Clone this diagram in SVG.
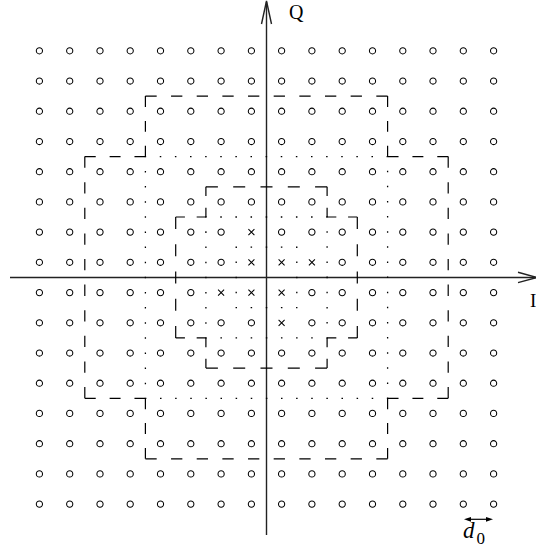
<svg xmlns="http://www.w3.org/2000/svg" xmlns:xlink="http://www.w3.org/1999/xlink" width="536" height="553" viewBox="0 0 536 553">
<style>
.pt{fill:none;stroke:#000;stroke-width:1.05}
.axis{fill:none;stroke:#222;stroke-width:1.4}
.dash{fill:none;stroke:#000;stroke-width:1.2;stroke-dasharray:11 14}
.dot{fill:none;stroke:#000;stroke-width:1.3;stroke-dasharray:0.1 0.9;stroke-dashoffset:0.05}
.lbl{font-family:"Liberation Serif","Times New Roman",serif;fill:#000}
</style>
<defs>
<circle id="o" class="pt" r="3.1"/>
<path id="x" class="pt" d="M-3,-3L3,3M-3,3L3,-3"/>
<g id="row">
<use href="#o" x="39.4"/><use href="#o" x="69.7"/><use href="#o" x="100"/><use href="#o" x="130.2"/><use href="#o" x="160.5"/><use href="#o" x="190.8"/><use href="#o" x="221.1"/><use href="#o" x="251.4"/><use href="#o" x="281.6"/><use href="#o" x="311.9"/><use href="#o" x="342.2"/><use href="#o" x="372.5"/><use href="#o" x="402.8"/><use href="#o" x="433"/><use href="#o" x="463.3"/><use href="#o" x="493.6"/>
</g>
</defs>
<rect width="536" height="553" fill="#fff"/>

<g id="axes">
<path class="axis" d="M266.5,2V535"/>
<path class="axis" d="M261.5,24L266.5,1L271.5,24"/>
<path class="axis" d="M10,277.45H536"/>
<path class="axis" d="M518,272.3L537,277.45L518,282.6"/>
</g>

<g id="points">
<use href="#row" y="50.8"/>
<use href="#row" y="81"/>
<use href="#row" y="111.2"/>
<use href="#row" y="141.5"/>
<use href="#row" y="171.7"/>
<use href="#row" y="201.9"/>
<g transform="translate(0,232.1)">
<use href="#o" x="39.4"/><use href="#o" x="69.7"/><use href="#o" x="100"/><use href="#o" x="130.2"/><use href="#o" x="160.5"/><use href="#o" x="190.8"/><use href="#o" x="221.1"/><use href="#x" x="251.4"/><use href="#o" x="281.6"/><use href="#o" x="311.9"/><use href="#o" x="342.2"/><use href="#o" x="372.5"/><use href="#o" x="402.8"/><use href="#o" x="433"/><use href="#o" x="463.3"/><use href="#o" x="493.6"/>
</g>
<g transform="translate(0,262.3)">
<use href="#o" x="39.4"/><use href="#o" x="69.7"/><use href="#o" x="100"/><use href="#o" x="130.2"/><use href="#o" x="160.5"/><use href="#o" x="190.8"/><use href="#o" x="221.1"/><use href="#x" x="251.4"/><use href="#x" x="281.6"/><use href="#x" x="311.9"/><use href="#o" x="342.2"/><use href="#o" x="372.5"/><use href="#o" x="402.8"/><use href="#o" x="433"/><use href="#o" x="463.3"/><use href="#o" x="493.6"/>
</g>
<g transform="translate(0,292.6)">
<use href="#o" x="39.4"/><use href="#o" x="69.7"/><use href="#o" x="100"/><use href="#o" x="130.2"/><use href="#o" x="160.5"/><use href="#o" x="190.8"/><use href="#x" x="221.1"/><use href="#x" x="251.4"/><use href="#x" x="281.6"/><use href="#o" x="311.9"/><use href="#o" x="342.2"/><use href="#o" x="372.5"/><use href="#o" x="402.8"/><use href="#o" x="433"/><use href="#o" x="463.3"/><use href="#o" x="493.6"/>
</g>
<g transform="translate(0,322.8)">
<use href="#o" x="39.4"/><use href="#o" x="69.7"/><use href="#o" x="100"/><use href="#o" x="130.2"/><use href="#o" x="160.5"/><use href="#o" x="190.8"/><use href="#o" x="221.1"/><use href="#o" x="251.4"/><use href="#x" x="281.6"/><use href="#o" x="311.9"/><use href="#o" x="342.2"/><use href="#o" x="372.5"/><use href="#o" x="402.8"/><use href="#o" x="433"/><use href="#o" x="463.3"/><use href="#o" x="493.6"/>
</g>
<use href="#row" y="353"/>
<use href="#row" y="383.2"/>
<use href="#row" y="413.4"/>
<use href="#row" y="443.7"/>
<use href="#row" y="473.9"/>
<use href="#row" y="504.1"/>
</g>

<g id="region-outer-dashed">
<path class="dash" pathLength="236" d="M145.4,96.1H387.6"/>
<path class="dash" pathLength="61" d="M387.6,96.1V156.6"/>
<path class="dash" pathLength="61" d="M387.6,156.6H448.2"/>
<path class="dash" pathLength="236" d="M448.2,156.6V398.3"/>
<path class="dash" pathLength="61" d="M448.2,398.3H387.6"/>
<path class="dash" pathLength="61" d="M387.6,398.3V458.8"/>
<path class="dash" pathLength="236" d="M387.6,458.8H145.4"/>
<path class="dash" pathLength="61" d="M145.4,458.8V398.3"/>
<path class="dash" pathLength="61" d="M145.4,398.3H84.8"/>
<path class="dash" pathLength="236" d="M84.8,398.3V156.6"/>
<path class="dash" pathLength="61" d="M84.8,156.6H145.4"/>
<path class="dash" pathLength="61" d="M145.4,156.6V96.1"/>
</g>

<g id="region-inner-dashed">
<path class="dash" pathLength="111" d="M205.9,186.8H327.1"/>
<path class="dash" pathLength="36" d="M327.1,186.8V217"/>
<path class="dash" pathLength="36" d="M327.1,217H357.3"/>
<path class="dash" pathLength="111" d="M357.3,217V337.9"/>
<path class="dash" pathLength="36" d="M357.3,337.9H327.1"/>
<path class="dash" pathLength="36" d="M327.1,337.9V368.1"/>
<path class="dash" pathLength="111" d="M327.1,368.1H205.9"/>
<path class="dash" pathLength="36" d="M205.9,368.1V337.9"/>
<path class="dash" pathLength="36" d="M205.9,337.9H175.7"/>
<path class="dash" pathLength="111" d="M175.7,337.9V217"/>
<path class="dash" pathLength="36" d="M175.7,217H205.9"/>
<path class="dash" pathLength="36" d="M205.9,217V186.8"/>
</g>

<g id="region-dotted">
<path class="dot" pathLength="64" d="M145.4,156.6H387.6V398.3H145.4Z"/>
<path class="dot" pathLength="32" d="M205.9,217H327.1V337.9H205.9Z"/>
<path class="dot" pathLength="16" d="M236.2,247.2H296.8V307.7H236.2Z"/>
</g>

<g id="d0-marker">
<path d="M468,519.3H489" stroke="#000" stroke-width="1.2" fill="none"/>
<path d="M464,519.3L471,516.9L471,521.7Z" fill="#000"/>
<path d="M493,519.3L486,516.9L486,521.7Z" fill="#000"/>
</g>

<g id="labels">
<text class="lbl" x="289" y="19" font-size="20">Q</text>
<text class="lbl" x="530" y="307" font-size="19">I</text>
<text class="lbl" x="463" y="538" font-size="23"><tspan font-style="italic">d</tspan><tspan font-size="17" dx="2" dy="6">0</tspan></text>
</g>
</svg>
